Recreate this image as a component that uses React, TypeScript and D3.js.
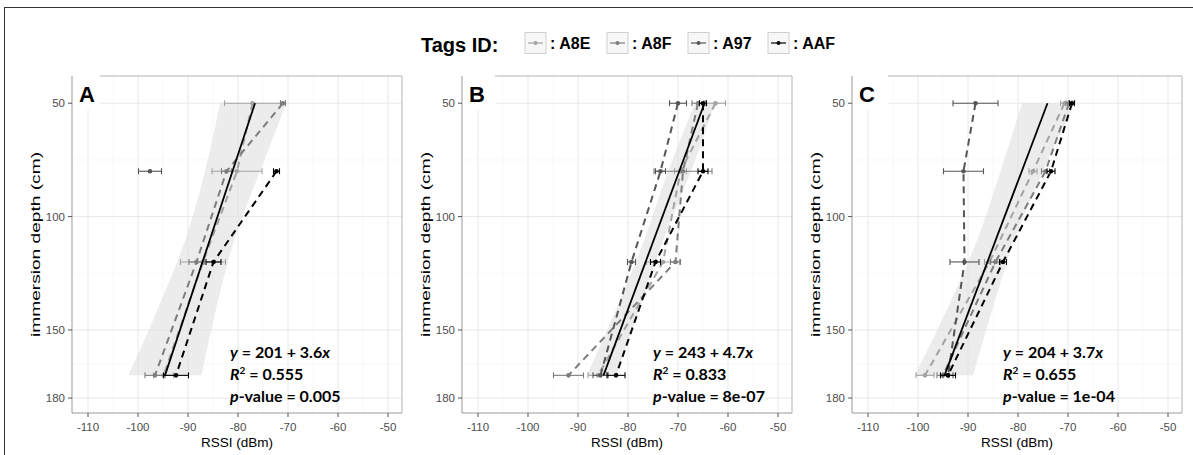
import React from 'react';
import * as d3 from 'd3';

// ---------- data ----------
const depths = [50, 80, 120, 170];
const tags = ['A8E', 'A8F', 'A97', 'AAF'];
const tagColors = ['#a3a3a3', '#7d7d7d', '#555555', '#000000'];

const xTicks = [-110, -100, -90, -80, -70, -60, -50];
const xMinor = [-105, -95, -85, -75, -65, -55];
const yTicks = [50, 100, 150, 180];
const yMinor = [75, 125, 165];

// Panel A (mean RSSI per depth, null = no measurement)
const A_A8E = [-77.1, -80.2, -87.0, -94.9];
const A_A8F = [-71.0, -82.3, -88.3, -96.6];
const A_A97 = [null, -97.6, null, null];
const A_AAF = [null, -72.3, -84.9, -92.4];
const A_A8E_err = [5.6, 5.0, 4.5, 2.0];
const A_A8F_err = [0.5, 1.0, 1.5, 2.0];
const A_A97_err = [null, 2.3, null, null];
const A_AAF_err = [null, 0.6, 1.5, 2.5];

// Panel B
const B_A8E = [-62.5, -69.5, -73.0, -86.0];
const B_A8F = [-66.0, -69.0, -70.5, -91.9];
const B_A97 = [-70.0, -73.5, -79.3, -85.5];
const B_AAF = [-65.0, -65.0, -74.5, -82.4];
const B_A8E_err = [2.0, 1.2, 3.3, 2.0];
const B_A8F_err = [1.2, 5.8, 1.0, 3.0];
const B_A97_err = [1.7, 1.0, 0.8, 1.5];
const B_AAF_err = [0.7, 1.0, 1.0, 1.8];

// Panel C
const C_A8E = [-70.7, -77.0, -85.7, -98.6];
const C_A8F = [-69.8, -74.5, -84.5, -95.0];
const C_A97 = [-88.5, -90.9, -90.7, -94.0];
const C_AAF = [-69.2, -73.4, -83.0, -94.0];
const C_A8E_err = [0.8, 0.8, 1.0, 1.8];
const C_A8F_err = [0.6, 0.8, 1.0, 1.2];
const C_A97_err = [4.5, 4.0, 2.9, 1.0];
const C_AAF_err = [0.5, 0.8, 0.7, 1.5];

// Regression fit (RSSI at depth 50 and 170) and confidence band
const fitDepths = [50, 170];
const A_fit = [-76.6, -94.6];
const B_fit = [-64.7, -84.9];
const C_fit = [-74.1, -94.7];
const bandDepths = [50, 80, 110, 140, 170];
const A_bandLo = [-83.6, -86.6, -90.5, -95.9, -101.9];
const A_bandHi = [-70.3, -75.6, -80.7, -84.3, -87.3];
const B_bandLo = [-66.6, -72.0, -76.7, -82.2, -88.2];
const B_bandHi = [-62.6, -67.4, -72.9, -77.6, -82.4];
const C_bandLo = [-79.2, -83.5, -88.1, -94.0, -100.6];
const C_bandHi = [-68.7, -75.0, -80.7, -85.0, -89.0];

const panelLabels = ['A', 'B', 'C'];
const eqIntercept = ['201', '243', '204'];
const eqSlope = ['3.6', '4.7', '3.7'];
const eqR2 = ['0.555', '0.833', '0.655'];
const eqP = ['0.005', '8e-07', '1e-04'];

const panels = [
  { label: panelLabels[0], series: [A_A8E, A_A8F, A_A97, A_AAF], errs: [A_A8E_err, A_A8F_err, A_A97_err, A_AAF_err], fit: A_fit, lo: A_bandLo, hi: A_bandHi },
  { label: panelLabels[1], series: [B_A8E, B_A8F, B_A97, B_AAF], errs: [B_A8E_err, B_A8F_err, B_A97_err, B_AAF_err], fit: B_fit, lo: B_bandLo, hi: B_bandHi },
  { label: panelLabels[2], series: [C_A8E, C_A8F, C_A97, C_AAF], errs: [C_A8E_err, C_A8F_err, C_A97_err, C_AAF_err], fit: C_fit, lo: C_bandLo, hi: C_bandHi },
];

// ---------- layout ----------
const W = 1193, H = 455;
const panelLeft = [72, 462, 852];
const panelW = 330, panelTop = 76, panelH = 337;
const labelBoxW = [28, 33, 36];
const eqX = [230, 653, 1003];
const xDomain: [number, number] = [-113.2, -47.2];
const yDomain: [number, number] = [38, 186.6];
const sansFont = '"Liberation Sans", Arial, sans-serif';
const eqFont = 'Lato, "Open Sans", sans-serif';

function Panel({ p, i }: { p: any; i: number }) {
  const left = panelLeft[i];
  const x = d3.scaleLinear().domain(xDomain).range([left, left + panelW]);
  const y = d3.scaleLinear().domain(yDomain).range([panelTop, panelTop + panelH]);
  const right = left + panelW, bottom = panelTop + panelH;

  const band = d3.area<number>()
    .y((_, k) => y(bandDepths[k]))
    .x0((_, k) => x(p.lo[k]))
    .x1((_, k) => x(p.hi[k]))
    .curve(d3.curveMonotoneY);

  const line = d3.line<any>()
    .defined((v) => v != null)
    .x((v) => x(v))
    .y((_, k) => y(depths[k]));

  const fitLine = d3.line<number>().x((v) => x(v)).y((_, k) => y(fitDepths[k]));

  return (
    <g>
      {/* grid */}
      {xMinor.map((t) => <line key={'xm' + t} x1={x(t)} x2={x(t)} y1={panelTop} y2={bottom} stroke="#f4f4f4" strokeWidth={0.6} />)}
      {yMinor.map((t) => <line key={'ym' + t} x1={left} x2={right} y1={y(t)} y2={y(t)} stroke="#f4f4f4" strokeWidth={0.6} />)}
      {xTicks.map((t) => <line key={'xg' + t} x1={x(t)} x2={x(t)} y1={panelTop} y2={bottom} stroke="#e8e8e8" strokeWidth={1} />)}
      {yTicks.map((t) => <line key={'yg' + t} x1={left} x2={right} y1={y(t)} y2={y(t)} stroke="#e8e8e8" strokeWidth={1} />)}

      {/* confidence band */}
      <path d={band(p.lo) || ''} fill="#e0e0e0" fillOpacity={0.62} stroke="none" />

      {/* tag lines */}
      {p.series.map((s: any[], k: number) => (
        <path key={'l' + k} d={line(s) || ''} fill="none" stroke={tagColors[k]} strokeWidth={2} strokeDasharray="7,5" />
      ))}
      {/* error bars and points */}
      {p.series.map((s: any[], k: number) => s.map((v, j) => {
        if (v == null) return null;
        const e = p.errs[k][j];
        const cy = y(depths[j]);
        return (
          <g key={'e' + k + '-' + j}>
            <line x1={x(v - e)} x2={x(v + e)} y1={cy} y2={cy} stroke={tagColors[k]} strokeWidth={1.1} />
            <line x1={x(v - e)} x2={x(v - e)} y1={cy - 3} y2={cy + 3} stroke={tagColors[k]} strokeWidth={1.1} />
            <line x1={x(v + e)} x2={x(v + e)} y1={cy - 3} y2={cy + 3} stroke={tagColors[k]} strokeWidth={1.1} />
            <circle cx={x(v)} cy={cy} r={2.3} fill={tagColors[k]} />
          </g>
        );
      }))}

      {/* fit line */}
      <path d={fitLine(p.fit) || ''} fill="none" stroke="#000" strokeWidth={1.8} />

      {/* label box */}
      <rect x={left + 0.5} y={panelTop - 6} width={labelBoxW[i]} height={40} fill="#fff" />
      <text x={left + 7} y={101.5} fontFamily={sansFont} fontWeight="bold" fontSize={22} fill="#000">{p.label}</text>

      {/* frame */}
      <line x1={left + labelBoxW[i]} x2={right} y1={panelTop} y2={panelTop} stroke="#b3b3b3" strokeWidth={1} />
      <line x1={right} x2={right} y1={panelTop} y2={bottom} stroke="#b3b3b3" strokeWidth={1} />
      <line x1={left} x2={left} y1={panelTop} y2={bottom} stroke="#999" strokeWidth={1} />
      <line x1={left} x2={right} y1={bottom} y2={bottom} stroke="#999" strokeWidth={1} />

      {/* axes ticks */}
      {xTicks.map((t) => (
        <g key={'xt' + t}>
          <line x1={x(t)} x2={x(t)} y1={bottom} y2={bottom + 4} stroke="#555" strokeWidth={1} />
          <text x={x(t)} y={430.5} textAnchor="middle" fontFamily={sansFont} fontSize={11.5} fill="#4d4d4d">{t}</text>
        </g>
      ))}
      {yTicks.map((t) => (
        <g key={'yt' + t}>
          <line x1={left - 4} x2={left} y1={y(t)} y2={y(t)} stroke="#555" strokeWidth={1} />
          <text x={left - 7} y={y(t) + 4} textAnchor="end" fontFamily={sansFont} fontSize={11.5} fill="#4d4d4d">{t}</text>
        </g>
      ))}
      <text x={left + panelW / 2} y={446.5} textAnchor="middle" fontFamily={sansFont} fontSize={13.5} fill="#000">RSSI (dBm)</text>
      <text transform={`translate(${left - 32},${panelTop + panelH / 2}) rotate(-90)`} textAnchor="middle" fontFamily={sansFont} fontSize={13.5} textLength={185} lengthAdjust="spacingAndGlyphs" fill="#000">immersion depth (cm)</text>

      {/* equation */}
      <text fontFamily={eqFont} fontWeight="bold" fontSize={16} fill="#000">
        <tspan x={eqX[i]} y={358}><tspan fontStyle="italic">y</tspan>{` = ${eqIntercept[i]} + ${eqSlope[i]}`}<tspan fontStyle="italic">x</tspan></tspan>
        <tspan x={eqX[i]} y={380}><tspan fontStyle="italic">R</tspan><tspan fontSize={10} dy={-6}>2</tspan><tspan dy={6}>{` = ${eqR2[i]}`}</tspan></tspan>
        <tspan x={eqX[i]} y={402}><tspan fontStyle="italic">p</tspan>{`-value = ${eqP[i]}`}</tspan>
      </text>
    </g>
  );
}

const keyX = [525, 607, 688, 768];

export default function App() {
  return (
    <svg width={W} height={H} style={{ position: 'absolute', left: 0, top: 0, background: '#fff' }}>
      <rect x={0} y={0} width={W} height={H} fill="#fff" />
      <line x1={4.5} x2={4.5} y1={7} y2={H} stroke="#333" strokeWidth={1} />
      <line x1={4} x2={W} y1={7.5} y2={7.5} stroke="#333" strokeWidth={1} />

      {/* legend */}
      <text x={421} y={52} fontFamily={sansFont} fontWeight="bold" fontSize={20} fill="#000">Tags ID:</text>
      {tags.map((t, k) => (
        <g key={t}>
          <rect x={keyX[k]} y={32.5} width={21} height={21} fill="#f7f7f7" stroke="#cfcfcf" strokeWidth={1} />
          <line x1={keyX[k] + 3} x2={keyX[k] + 18} y1={43} y2={43} stroke={tagColors[k]} strokeWidth={1.2} />
          <circle cx={keyX[k] + 10.5} cy={43} r={2} fill={tagColors[k]} />
          <text x={keyX[k] + 25} y={49} fontFamily={sansFont} fontWeight="bold" fontSize={16} fill="#000">{': ' + t}</text>
        </g>
      ))}

      {panels.map((p, i) => <Panel key={p.label} p={p} i={i} />)}
    </svg>
  );
}
